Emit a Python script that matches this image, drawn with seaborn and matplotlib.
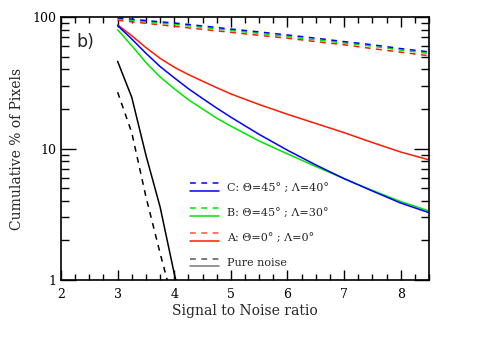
import numpy as np
import pandas as pd
import matplotlib
matplotlib.use("Agg")
import matplotlib.pyplot as plt
import seaborn as sns
from matplotlib.lines import Line2D
from matplotlib.legend_handler import HandlerBase
from matplotlib.ticker import FixedLocator, NullFormatter, LogLocator, MultipleLocator

# ---------------- data ----------------
snr_sig = [3.0, 3.25, 3.5, 3.75, 4.0, 4.25, 4.5, 4.75, 5.0, 5.5, 6.0, 6.5, 7.0, 7.5, 8.0, 8.5]
# solid curves (signal)
red_solid   = [87, 72, 58.5, 48.5, 41.5, 36.5, 32.5, 29, 26, 21.6, 18.2, 15.5, 13.2, 11.1, 9.4, 8.2]
blue_solid  = [86, 68, 53, 42, 34.5, 28.5, 24, 20.3, 17.3, 12.8, 9.7, 7.5, 5.9, 4.75, 3.85, 3.25]
green_solid = [80, 60.5, 45, 35, 28.5, 23.5, 20, 17, 14.8, 11.4, 9.1, 7.3, 5.9, 4.8, 3.95, 3.35]
# dashed curves
snr_d = [3.0, 3.5, 4.0, 4.5, 5.0, 5.5, 6.0, 6.5, 7.0, 7.5, 8.0, 8.5]
blue_dash  = [98.5, 94, 90, 85.5, 81, 77, 73, 69, 65, 61.5, 57.5, 54.3]
green_dash = [96.5, 92, 88, 83.5, 79, 75, 71, 67, 63.5, 60, 56, 52.8]
red_dash   = [94.5, 89.5, 85, 80.5, 76.5, 72.5, 69, 65, 61.5, 57.5, 54, 50.7]
# pure noise
snr_n = [3.0, 3.25, 3.5, 3.75, 4.0, 4.25]
noise_solid = [46, 24.5, 8.9, 3.6, 1.12, 0.4]
noise_dash  = [26.8, 13.2, 4.3, 1.6, 0.63, 0.25]

labels = ["C: \u0398=45\u00b0 ; \u039b=40\u00b0",
          "B: \u0398=45\u00b0 ; \u039b=30\u00b0",
          "A: \u0398=0\u00b0 ; \u039b=0\u00b0",
          "Pure noise"]

x_ticks = [2, 3, 4, 5, 6, 7, 8]
y_ticks = [1, 10, 100]

# ---------------- style ----------------
sns.set_style("ticks")
plt.rcParams['font.family'] = ['DejaVu Serif']
plt.rcParams['font.size'] = 8.5

BLUE = "#0000ff"
GREEN = "#00e600"
RED = "#ff1a00"
BLACK = "#000000"
LW = 1.1
DASH = (0, (3.8, 3.6))

fig = plt.figure(figsize=(4.91, 3.5), dpi=100)
ax = fig.add_axes([61/491, 1-280/350, (429-61)/491, (280-17)/350])

series = [
    (snr_d, red_dash, RED, DASH),
    (snr_d, green_dash, GREEN, DASH),
    (snr_d, blue_dash, BLUE, DASH),
    (snr_sig, red_solid, RED, '-'),
    (snr_sig, green_solid, GREEN, '-'),
    (snr_sig, blue_solid, BLUE, '-'),
    (snr_n, noise_dash, BLACK, DASH),
    (snr_n, noise_solid, BLACK, '-'),
]
for xs, ys, c, ls in series:
    df = pd.DataFrame({"snr": xs, "pct": ys})
    sns.lineplot(data=df, x="snr", y="pct", ax=ax, color=c, linestyle=ls,
                 linewidth=LW, legend=False, errorbar=None, sort=False)

ax.set_yscale("log")
ax.set_xlim(2, 8.5)
ax.set_ylim(1, 100)
ax.xaxis.set_major_locator(FixedLocator(x_ticks))
ax.xaxis.set_minor_locator(MultipleLocator(0.25))
ax.set_xticklabels([str(v) for v in x_ticks])
ax.yaxis.set_major_locator(FixedLocator(y_ticks))
ax.yaxis.set_minor_locator(LogLocator(base=10, subs=np.arange(2, 10)))
ax.yaxis.set_minor_formatter(NullFormatter())
ax.set_yticklabels([str(v) for v in y_ticks])

ax.tick_params(which="both", direction="in", top=True, right=True, width=1.0,
               colors="black", labelsize=9)
ax.tick_params(which="major", axis="x", length=7.5, pad=6)
ax.tick_params(which="minor", axis="x", length=4.3)
ax.tick_params(which="major", axis="y", length=10.5, pad=3)
ax.tick_params(which="minor", axis="y", length=5.5)
for s in ax.spines.values():
    s.set_linewidth(1.2)
    s.set_color("black")

ax.set_xlabel("Signal to Noise ratio", labelpad=2, fontsize=10)
ax.set_ylabel("Cumulative % of Pixels", labelpad=6, fontsize=10)

ax.text(0.065, 0.905, "b)", transform=ax.transAxes, fontsize=12.5,
        family="DejaVu Sans", ha="center", va="center")

# ---------------- legend with stacked dashed/solid handles ----------------
class Pair:
    def __init__(self, cd, cs):
        self.cd = cd
        self.cs = cs

class PairHandler(HandlerBase):
    def create_artists(self, legend, orig_handle, xdescent, ydescent,
                       width, height, fontsize, trans):
        y1 = -ydescent + height * 1.0
        y2 = -ydescent - height * 0.1
        l1 = Line2D([-xdescent, -xdescent + width], [y1, y1], color=orig_handle.cd,
                    linestyle=DASH, linewidth=LW, transform=trans)
        l2 = Line2D([-xdescent, -xdescent + width], [y2, y2], color=orig_handle.cs,
                    linestyle='-', linewidth=LW, transform=trans)
        return [l1, l2]

handles = [Pair(BLUE, BLUE), Pair(GREEN, GREEN), Pair("#ff5040", RED), Pair("#555555", "#777777")]
ax.legend(handles, labels, handler_map={Pair: PairHandler()},
          loc="upper left", bbox_to_anchor=(0.35, 0.37), frameon=False,
          handlelength=2.6, handleheight=0.6, handletextpad=0.75,
          labelspacing=1.36, borderpad=0, borderaxespad=0, fontsize=8)

fig.savefig("out.png", dpi=100)
